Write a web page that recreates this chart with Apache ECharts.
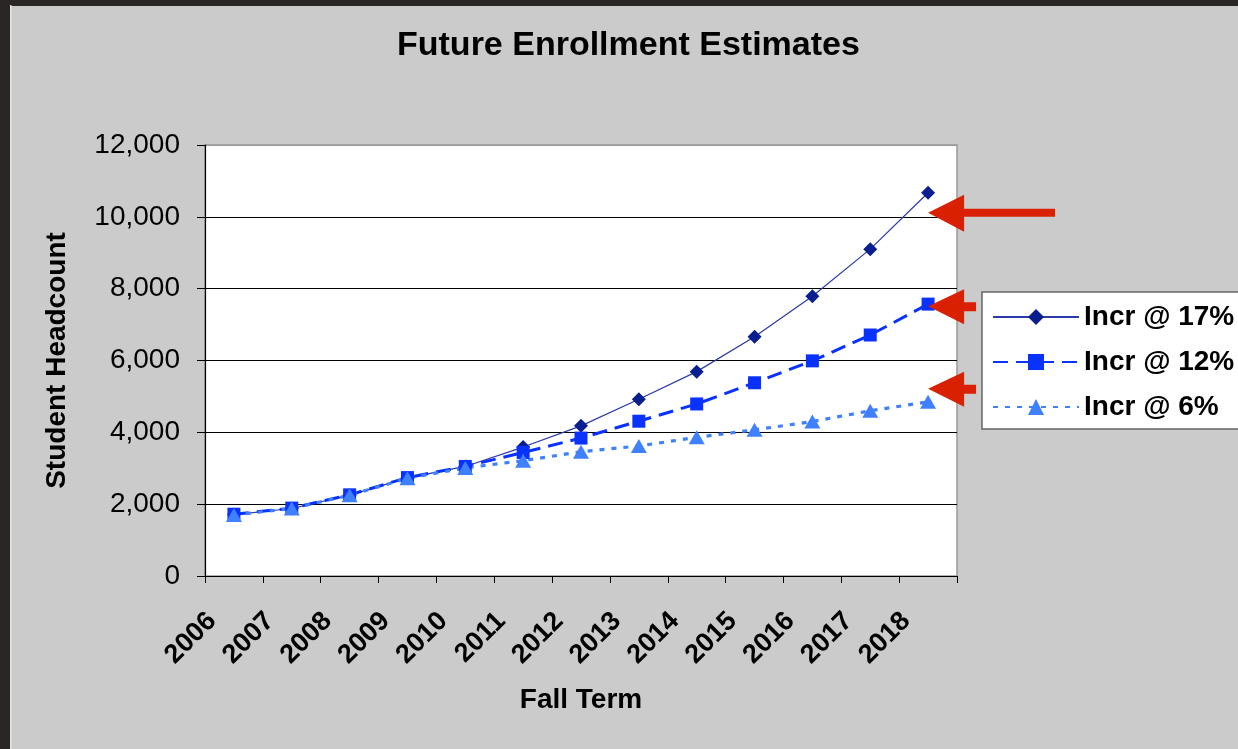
<!DOCTYPE html>
<html>
<head>
<meta charset="utf-8">
<title>Future Enrollment Estimates</title>
<script src="https://cdn.jsdelivr.net/npm/echarts@6/dist/echarts.min.js"></script>
<style>
  html, body { margin: 0; padding: 0; background: #cbcbcb; }
  #chart { width: 1238px; height: 749px; }
</style>
</head>
<body>
<div id="chart"></div>
<script>
// chart data
const years = ['2006', '2007', '2008', '2009', '2010', '2011', '2012', '2013', '2014', '2015', '2016', '2017', '2018']
const incr17 = [1710, 1880, 2250, 2730, 3050, 3590, 4180, 4920, 5690, 6660, 7790, 9100, 10670]
const incr12 = [1720, 1890, 2260, 2740, 3050, 3440, 3840, 4310, 4790, 5380, 5990, 6710, 7570]
const incr6 = [1700, 1880, 2250, 2720, 3010, 3210, 3460, 3620, 3860, 4070, 4300, 4600, 4850]
const seriesNames = ['Incr @ 17%', 'Incr @ 12%', 'Incr @ 6%']
// where the red arrows point (at the last year)
const arrowValues = [10100, 7500, 5200]
const yTicks = [0, 2000, 4000, 6000, 8000, 10000, 12000]

const FONT = 'Liberation Sans, Arial, sans-serif'
const ARROW_RED = '#d92000'

const longArrow = 'path://M0 18 L36 0 L36 14 L127 14 L127 22 L36 22 L36 37 Z'
const shortArrow = 'path://M0 17 L36 0 L36 13 L48 13 L48 22 L36 22 L36 35 Z'

function arrowMark(value, path, size) {
  return {
    silent: true,
    label: { show: false },
    itemStyle: { color: ARROW_RED },
    data: [{
      coord: [years[years.length - 1], value],
      symbol: path,
      symbolSize: size,
      symbolOffset: [size[0] / 2, 0],
      symbolKeepAspect: false
    }]
  }
}

const chart = echarts.init(document.getElementById('chart'))

chart.setOption({
  animation: false,
  backgroundColor: '#cbcbcb',
  textStyle: { fontFamily: FONT },
  graphic: [
    { type: 'rect', shape: { x: 0, y: 0, width: 1238, height: 6 }, style: { fill: '#2b2626' }, silent: true },
    { type: 'rect', shape: { x: 0, y: 0, width: 10, height: 749 }, style: { fill: '#2b2626' }, silent: true },
    { type: 'rect', shape: { x: 10, y: 5, width: 1.5, height: 744 }, style: { fill: '#e6e6e6' }, silent: true }
  ],
  title: {
    text: 'Future Enrollment Estimates',
    left: 397,
    top: 29,
    padding: 0,
    textStyle: { fontFamily: FONT, fontSize: 34, fontWeight: 'bold', color: '#000' }
  },
  legend: {
    orient: 'vertical',
    left: 982,
    top: 292,
    padding: [11, 10, 8, 10],
    itemGap: 17,
    itemWidth: 86,
    itemHeight: 20,
    backgroundColor: '#fff',
    borderColor: '#666',
    borderWidth: 1.5,
    borderRadius: 0,
    data: seriesNames,
    textStyle: { fontFamily: FONT, fontSize: 28, fontWeight: 'bold', color: '#000' }
  },
  grid: {
    left: 205,
    right: 281,
    top: 145,
    bottom: 173,
    show: true,
    backgroundColor: '#fff',
    borderColor: '#999',
    borderWidth: 1.5,
    containLabel: false,
    outerBoundsMode: 'none'
  },
  xAxis: {
    type: 'category',
    data: years,
    boundaryGap: true,
    name: 'Fall Term',
    nameLocation: 'middle',
    nameGap: 110,
    nameTextStyle: { fontFamily: FONT, fontSize: 28, fontWeight: 'bold', color: '#000' },
    axisLine: { show: true, lineStyle: { color: '#000', width: 1.2 } },
    axisTick: { show: true, interval: 0, length: 7, inside: false, lineStyle: { color: '#000' } },
    axisLabel: {
      interval: 0,
      rotate: 45,
      margin: 19,
      padding: [0, 31, 0, 0],
      fontFamily: FONT,
      fontSize: 27,
      fontWeight: 'bold',
      color: '#000'
    },
    splitLine: { show: false }
  },
  yAxis: {
    type: 'value',
    min: yTicks[0],
    max: yTicks[yTicks.length - 1],
    interval: yTicks[1] - yTicks[0],
    name: 'Student Headcount',
    nameLocation: 'middle',
    nameGap: 134,
    nameRotate: 90,
    nameTextStyle: { fontFamily: FONT, fontSize: 28, fontWeight: 'bold', color: '#000' },
    axisLine: { show: true, lineStyle: { color: '#000', width: 1.2 } },
    axisTick: { show: true, length: 8, inside: false, lineStyle: { color: '#000' } },
    axisLabel: {
      margin: 25,
      fontFamily: FONT,
      fontSize: 28,
      color: '#000',
      formatter: v => v.toLocaleString('en-US')
    },
    splitLine: {
      show: true,
      lineStyle: { color: ['#000', '#000', '#000', '#000', '#000', '#000', '#999'], width: 1.2 }
    }
  },
  series: [
    {
      name: seriesNames[0],
      type: 'line',
      data: incr17,
      symbol: 'diamond',
      symbolSize: 14,
      itemStyle: { color: '#0a1f8f' },
      lineStyle: { color: '#2a3aa6', width: 1.2, type: 'solid' },
      z: 3,
      markPoint: arrowMark(arrowValues[0], longArrow, [127, 37])
    },
    {
      name: seriesNames[1],
      type: 'line',
      data: incr12,
      symbol: 'rect',
      symbolSize: 13,
      itemStyle: { color: '#0a32ff' },
      lineStyle: { color: '#0a32ff', width: 3, type: [15, 8] },
      z: 3,
      markPoint: arrowMark(arrowValues[1], shortArrow, [48, 35])
    },
    {
      name: seriesNames[2],
      type: 'line',
      data: incr6,
      symbol: 'triangle',
      symbolSize: [16, 14],
      itemStyle: { color: '#3f80ff' },
      lineStyle: { color: '#3f80ff', width: 3.2, type: [5, 7] },
      z: 3,
      markPoint: arrowMark(arrowValues[2], shortArrow, [48, 35])
    }
  ]
})
</script>
</body>
</html>
